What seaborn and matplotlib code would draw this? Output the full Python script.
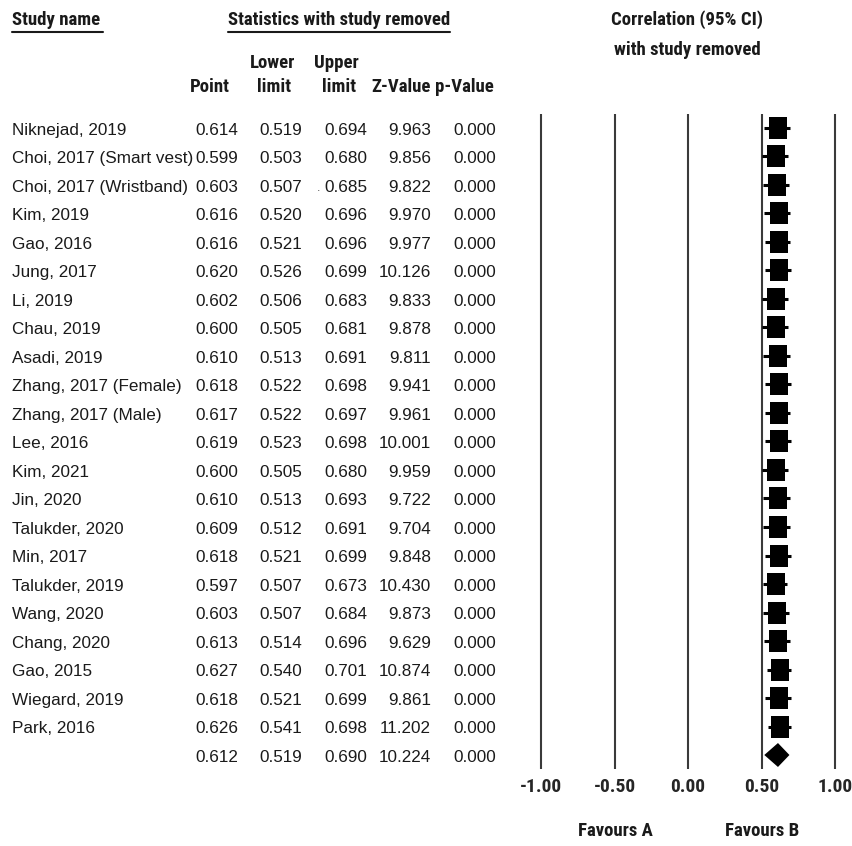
import matplotlib
matplotlib.use("Agg")
import matplotlib.pyplot as plt
import matplotlib.transforms as mtransforms
from matplotlib import font_manager
import seaborn as sns
import pandas as pd

# Leave-one-out sensitivity analysis: correlation with each study removed
studies = [
    "Niknejad, 2019", "Choi, 2017 (Smart vest)", "Choi, 2017 (Wristband)",
    "Kim, 2019", "Gao, 2016", "Jung, 2017", "Li, 2019", "Chau, 2019",
    "Asadi, 2019", "Zhang, 2017 (Female)", "Zhang, 2017 (Male)", "Lee, 2016",
    "Kim, 2021", "Jin, 2020", "Talukder, 2020", "Min, 2017", "Talukder, 2019",
    "Wang, 2020", "Chang, 2020", "Gao, 2015", "Wiegard, 2019", "Park, 2016",
]
point = [0.614, 0.599, 0.603, 0.616, 0.616, 0.620, 0.602, 0.600, 0.610, 0.618,
         0.617, 0.619, 0.600, 0.610, 0.609, 0.618, 0.597, 0.603, 0.613, 0.627,
         0.618, 0.626]
lower = [0.519, 0.503, 0.507, 0.520, 0.521, 0.526, 0.506, 0.505, 0.513, 0.522,
         0.522, 0.523, 0.505, 0.513, 0.512, 0.521, 0.507, 0.507, 0.514, 0.540,
         0.521, 0.541]
upper = [0.694, 0.680, 0.685, 0.696, 0.696, 0.699, 0.683, 0.681, 0.691, 0.698,
         0.697, 0.698, 0.680, 0.693, 0.691, 0.699, 0.673, 0.684, 0.696, 0.701,
         0.699, 0.698]
zval = [9.963, 9.856, 9.822, 9.970, 9.977, 10.126, 9.833, 9.878, 9.811, 9.941,
        9.961, 10.001, 9.959, 9.722, 9.704, 9.848, 10.430, 9.873, 9.629, 10.874,
        9.861, 11.202]
pval = [0.000] * 22

# Pooled estimate
pooled_point, pooled_lower, pooled_upper = 0.612, 0.519, 0.690
pooled_z, pooled_p = 10.224, 0.000

xticks = [-1.0, -0.5, 0.0, 0.5, 1.0]
xtick_labels = ["-1.00", "-0.50", "0.00", "0.50", "1.00"]

# Fonts: a narrow bold face for headings, an Arial-like face for the table
bold_faces = {}
for f in font_manager.fontManager.ttflist:
    w = f.weight if isinstance(f.weight, int) else (700 if "bold" in str(f.weight) else 400)
    if w >= 700 and f.style == "normal":
        bold_faces[f.name] = True
narrow = "Liberation Sans"
for cand in ["Liberation Sans Narrow", "Arial Narrow", "Roboto Condensed",
             "PT Sans Narrow", "Archivo Narrow", "Asap Condensed", "Barlow Semi Condensed"]:
    if cand in bold_faces:
        narrow = cand
        break
regular = "Liberation Sans"

sns.set_theme(style="white")
plt.rcParams["font.family"] = [regular, "DejaVu Sans"]

W, H = 852, 846
fig = plt.figure(figsize=(W / 100, H / 100), dpi=100)

n = len(studies)
# Plot area geometry in pixels
px_per_unit = 147.0
x0_px = 688.0
row0_px, row_step = 128.0, 28.5
xlim = (-1.1, 1.1)
ax_left = x0_px + xlim[0] * px_per_unit
ax_w = (xlim[1] - xlim[0]) * px_per_unit
ax_top = row0_px - 0.5 * row_step
ax_bot = row0_px + (n + 0.5) * row_step
ax = fig.add_axes([ax_left / W, 1 - ax_bot / H, ax_w / W, (ax_bot - ax_top) / H])
ax.set_xlim(*xlim)
ax.set_ylim(n + 0.5, -0.5)

for v in xticks:
    ax.axvline(v, color="#3a3a3a", lw=1.5, zorder=1)

df = pd.DataFrame({"row": range(n), "point": point, "lower": lower, "upper": upper})
ax.hlines(df["row"], df["lower"], df["upper"], color="black", lw=2.2, zorder=2)
square = [(-0.78, -1), (0.78, -1), (0.78, 1), (-0.78, 1)]
sns.scatterplot(data=df, x="point", y="row", marker=square, s=270, color="black",
                edgecolor="black", linewidth=0, ax=ax, zorder=3, legend=False)

# Pooled diamond
ax.fill([pooled_lower, pooled_point, pooled_upper, pooled_point],
        [n, n - 0.42, n, n + 0.42], color="black", zorder=3, lw=0)

ax.set_xticks(xticks)
ax.set_xticklabels(xtick_labels, fontfamily=narrow, fontweight="bold", fontsize=14)
ax.tick_params(axis="x", length=0, pad=6)
ax.set_yticks([])
ax.set_xlabel("")
ax.set_ylabel("")
for s in ax.spines.values():
    s.set_visible(False)

# Table text alongside rows
tr = mtransforms.blended_transform_factory(fig.transFigure, ax.transData)
fs = 12.3
col_right = {"point": 238, "lower": 302, "upper": 367, "z": 431, "p": 496}

def fmt(v):
    return f"{v:.3f}"

rows = list(zip(studies, point, lower, upper, zval, pval))
rows.append(("", pooled_point, pooled_lower, pooled_upper, pooled_z, pooled_p))
for i, (name, pt, lo, up, z, p) in enumerate(rows):
    y = i + 0.08
    if name:
        ax.text(12 / W, y, name, transform=tr, ha="left", va="center", fontsize=fs, color="#1a1a1a")
    for key, v in zip(["point", "lower", "upper", "z", "p"], [pt, lo, up, z, p]):
        ax.text(col_right[key] / W, y, fmt(v), transform=tr, ha="right", va="center",
                fontsize=fs, color="#1a1a1a")
# stray dot in the Upper column of the third row
ax.text(319 / W, 2 + 0.1, ".", transform=tr, ha="center", va="center", fontsize=9, color="#555555")

# Headers
hkw = dict(fontfamily=narrow, fontweight="bold", fontsize=13.5, color="#1a1a1a")
def ftext(xp, yp, s, ha="center", **kw):
    return fig.text(xp / W, 1 - yp / H, s, ha=ha, va="center", **{**hkw, **kw})

ftext(12, 20, "Study name", ha="left")
ftext(339, 20, "Statistics with study removed")
fig.add_artist(plt.Line2D([12 / W, 103 / W], [1 - 32 / H] * 2, color="#1a1a1a", lw=1.5))
fig.add_artist(plt.Line2D([228 / W, 450 / W], [1 - 32 / H] * 2, color="#1a1a1a", lw=1.5))
ftext(273, 63, "Lower")
ftext(274, 87, "limit")
ftext(336, 63, "Upper")
ftext(339, 87, "limit")
ftext(210, 87, "Point")
ftext(401, 87, "Z-Value")
ftext(464, 87, "p-Value")
ftext(687, 20, "Correlation (95% CI)")
ftext(687, 50, "with study removed")
ftext(615, 831, "Favours A")
ftext(762, 831, "Favours B")

fig.savefig("out.png", dpi=100)
